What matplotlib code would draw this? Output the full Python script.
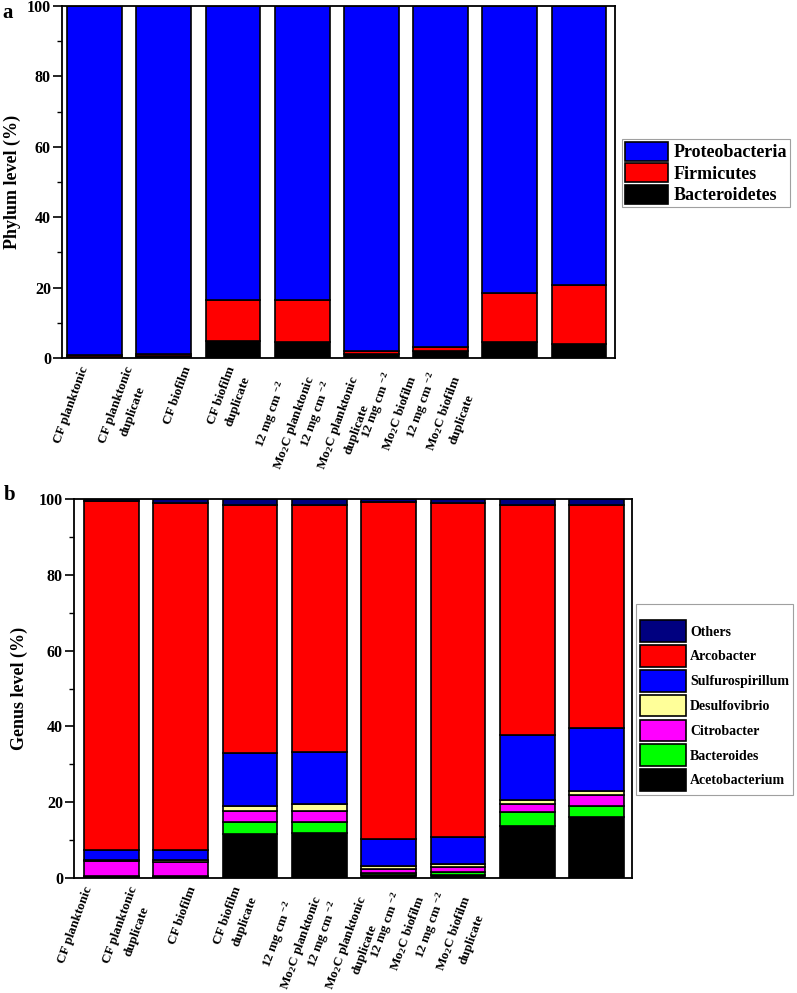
import numpy as np
import matplotlib
matplotlib.use("Agg")
import matplotlib.pyplot as plt
from matplotlib.ticker import MultipleLocator

plt.rcParams['font.family'] = ['Liberation Serif', 'DejaVu Serif']
plt.rcParams['font.weight'] = 'bold'
plt.rcParams['mathtext.fontset'] = 'custom'
plt.rcParams['mathtext.rm'] = 'Liberation Serif:bold'
plt.rcParams['mathtext.it'] = 'Liberation Serif:bold'
plt.rcParams['mathtext.bf'] = 'Liberation Serif:bold'
plt.rcParams['mathtext.default'] = 'rm'

# ---------------- data ----------------
samples = [
    "CF planktonic",
    "CF planktonic\nduplicate",
    "CF biofilm",
    "CF biofilm\nduplicate",
    "12 mg cm $^{-2}$\nMo$_2$C planktonic",
    "12 mg cm $^{-2}$\nMo$_2$C planktonic\nduplicate",
    "12 mg cm $^{-2}$\nMo$_2$C biofilm",
    "12 mg cm $^{-2}$\nMo$_2$C biofilm\nduplicate",
]

# Panel a: phylum level (%), stacked bottom -> top
phylum_names = ["Bacteroidetes", "Firmicutes", "Proteobacteria"]
bacteroidetes = [0.4, 0.5, 4.9, 4.5, 1.2, 2.0, 4.6, 4.0]
firmicutes = [0.4, 0.5, 11.6, 12.0, 0.9, 1.0, 13.8, 16.7]
proteobacteria = [99.2, 99.0, 83.5, 83.5, 97.9, 97.0, 81.6, 79.3]
phylum_colors = ["#000000", "#FF0000", "#0000FF"]

# Panel b: genus level (%), stacked bottom -> top
genus_names = ["Acetobacterium", "Bacteroides", "Citrobacter", "Desulfovibrio",
               "Sulfurospirillum", "Arcobacter", "Others"]
acetobacterium = [0.3, 0.3, 11.6, 12.0, 0.8, 0.9, 13.6, 16.1]
bacteroides = [0.1, 0.2, 3.3, 2.9, 0.6, 0.8, 3.7, 3.0]
citrobacter = [4.2, 3.6, 2.7, 2.7, 1.0, 1.1, 2.2, 2.9]
desulfovibrio = [0.2, 0.6, 1.3, 1.9, 0.8, 1.0, 1.0, 0.9]
sulfurospirillum = [2.6, 2.7, 14.1, 13.8, 7.0, 7.0, 17.3, 16.7]
arcobacter = [92.0, 91.5, 65.5, 65.2, 89.1, 88.2, 60.7, 58.9]
others = [0.6, 1.1, 1.5, 1.5, 0.7, 1.0, 1.5, 1.5]
genus_colors = ["#000000", "#00FF00", "#FF00FF", "#FFFF99",
                "#0000FF", "#FF0000", "#000080"]

# ---------------- figure ----------------
W, H = 797, 993
fig = plt.figure(figsize=(W / 100, H / 100), dpi=100)


def px_axes(l, r, t, b):
    return fig.add_axes([l / W, 1 - b / H, (r - l) / W, (b - t) / H])


def style_axes(ax, ylabel, xlim, lab_start, lab_step, labelpad):
    ax.set_xlim(*xlim)
    ax.set_ylim(0, 100)
    ax.yaxis.set_major_locator(MultipleLocator(20))
    ax.yaxis.set_minor_locator(MultipleLocator(10))
    ax.tick_params(axis='y', which='major', direction='out', length=6.5,
                   width=1.2, labelsize=11.5, pad=1.5)
    ax.tick_params(axis='y', which='minor', direction='out', length=3.5, width=1.0)
    ax.set_xticks([])
    for sp in ax.spines.values():
        sp.set_linewidth(1.3)
    ax.set_ylabel(ylabel, fontsize=13, fontweight='bold', labelpad=labelpad)
    for lab in ax.get_yticklabels():
        lab.set_fontweight('bold')
    # category labels (spread at their own spacing as in the original)
    fwd = lambda x: (x - lab_start) / lab_step
    inv = lambda v: lab_start + v * lab_step
    sec = ax.secondary_xaxis('bottom', functions=(fwd, inv))
    sec.set_xticks(np.arange(len(samples)))
    sec.set_xticklabels(samples, rotation=70, ha='center', va='top',
                        fontsize=9.5, fontweight='bold',
                        multialignment='center', linespacing=1.65)
    sec.tick_params(axis='x', length=0, pad=5)
    sec.spines['bottom'].set_visible(False)


x = np.arange(len(samples))
bw = 0.79

# ---- panel a ----
axa = px_axes(62, 615, 6, 358)
phylum_vals = [bacteroidetes, firmicutes, proteobacteria]
bottom = np.zeros(len(samples))
handles_a = []
for name, vals, col in zip(phylum_names, phylum_vals, phylum_colors):
    h = axa.bar(x, vals, bw, bottom=bottom, color=col, edgecolor='black',
                linewidth=1.2, label=name)
    handles_a.append(h)
    bottom += np.array(vals)
style_axes(axa, "Phylum level (%)", (-0.47, 7.52), -0.33, 0.762, 4)
leg_a = fig.legend(handles_a[::-1], phylum_names[::-1], loc='upper left',
                   bbox_to_anchor=(622 / W, 1 - 139 / H), fontsize=13,
                   handlelength=2.4, handleheight=1.25, labelspacing=0.1,
                   handletextpad=0.3, borderpad=0.15, borderaxespad=0,
                   fancybox=False, frameon=True)
leg_a.get_frame().set_edgecolor('#888888')
leg_a.get_frame().set_linewidth(0.8)
for t in leg_a.get_texts():
    t.set_fontweight('bold')

# ---- panel b ----
axb = px_axes(74, 632, 499, 878)
genus_vals = [acetobacterium, bacteroides, citrobacter, desulfovibrio,
              sulfurospirillum, arcobacter, others]
bottom = np.zeros(len(samples))
handles_b = []
for name, vals, col in zip(genus_names, genus_vals, genus_colors):
    h = axb.bar(x, vals, bw, bottom=bottom, color=col, edgecolor='black',
                linewidth=1.2, label=name)
    handles_b.append(h)
    bottom += np.array(vals)
style_axes(axb, "Genus level (%)", (-0.54, 7.51), -0.52, 0.772, 8)
leg_b = fig.legend(handles_b[::-1], genus_names[::-1], loc='upper left',
                   bbox_to_anchor=(636 / W, 1 - 604 / H), fontsize=10,
                   handlelength=3.3, handleheight=2.0, labelspacing=0.24,
                   handletextpad=0.3, borderpad=0.3, borderaxespad=0,
                   title=" ", title_fontsize=7,
                   fancybox=False, frameon=True)
leg_b.get_frame().set_edgecolor('#888888')
leg_b.get_frame().set_linewidth(0.8)
for t in leg_b.get_texts():
    t.set_fontweight('bold')

# panel letters
fig.text(2 / W, 1 - 3 / H, "a", fontsize=15, fontweight='bold', va='top', ha='left')
fig.text(4 / W, 1 - 485 / H, "b", fontsize=15, fontweight='bold', va='top', ha='left')

fig.savefig("out.png", dpi=100)
